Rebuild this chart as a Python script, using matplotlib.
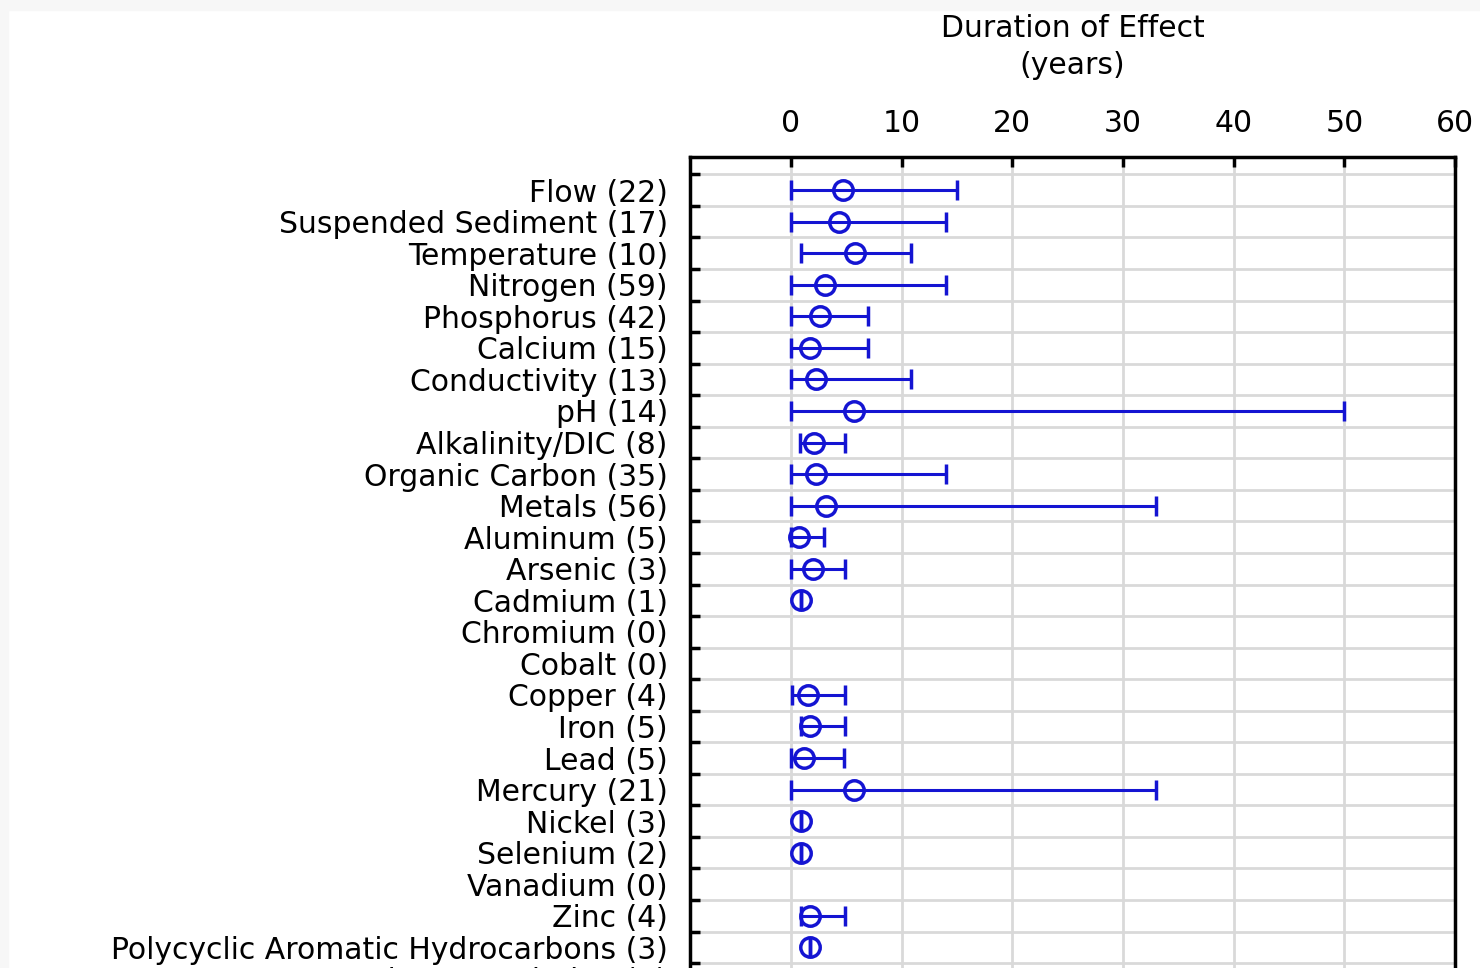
import numpy as np
import matplotlib.pyplot as plt
from matplotlib.patches import Rectangle

# categories (top to bottom) and durations in years
labels = ["Flow (22)", "Suspended Sediment (17)", "Temperature (10)", "Nitrogen (59)",
          "Phosphorus (42)", "Calcium (15)", "Conductivity (13)", "pH (14)",
          "Alkalinity/DIC (8)", "Organic Carbon (35)", "Metals (56)", "Aluminum (5)",
          "Arsenic (3)", "Cadmium (1)", "Chromium (0)", "Cobalt (0)", "Copper (4)",
          "Iron (5)", "Lead (5)", "Mercury (21)", "Nickel (3)", "Selenium (2)",
          "Vanadium (0)", "Zinc (4)", "Polycyclic Aromatic Hydrocarbons (3)",
          "Bioaccumulation (0)"]
center = [4.7, 4.3, 5.8, 3.1, 2.6, 1.7, 2.3, 5.7, 2.1, 2.3, 3.2, 0.7, 2.0, 0.9,
          np.nan, np.nan, 1.5, 1.7, 1.2, 5.7, 0.9, 0.9, np.nan, 1.7, 1.7, np.nan]
low = [0.0, 0.0, 0.9, 0.0, 0.0, 0.0, 0.0, 0.0, 0.8, 0.0, 0.0, 0.0, 0.0, 0.9,
       np.nan, np.nan, 0.1, 0.9, 0.0, 0.0, 0.9, 0.9, np.nan, 0.9, 1.7, np.nan]
high = [15.0, 14.0, 10.8, 14.0, 7.0, 7.0, 10.8, 50.0, 4.9, 14.0, 33.0, 3.0, 4.9, 0.9,
        np.nan, np.nan, 4.9, 4.9, 4.8, 33.0, 0.9, 0.9, np.nan, 4.9, 1.7, np.nan]
xticks = [0, 10, 20, 30, 40, 50, 60]

blue = '#1414d2'
fs = 21.5

fig = plt.figure(figsize=(14.8, 9.68), dpi=100)
# light grey frame at top and left of the screenshot
fig.patches.append(Rectangle((0, 1 - 10 / 968), 1, 10 / 968, transform=fig.transFigure,
                             color='#f7f7f7', zorder=0))
fig.patches.append(Rectangle((0, 0), 8 / 1480, 1, transform=fig.transFigure,
                             color='#f7f7f7', zorder=0))

row_px = 31.55
y_top, y_bot = -1.05, 25.6
top_px = 157
h_px = (y_bot - y_top) * row_px
ax = fig.add_axes([690 / 1480, 1 - (top_px + h_px) / 968, (1455 - 690) / 1480, h_px / 968])

y = np.arange(len(labels))
c = np.array(center)
xerr = [c - np.array(low), np.array(high) - c]
ax.errorbar(c, y, xerr=xerr, fmt='o', color=blue, mfc='none', mec=blue, ms=14, mew=2.5,
            elinewidth=2.2, capsize=7.5, capthick=2.4, zorder=3)

ax.set_xlim(-9.13, 60)
ax.set_ylim(y_bot, y_top)

ax.xaxis.tick_top()
ax.xaxis.set_label_position('top')
ax.set_xticks(xticks)
ax.tick_params(axis='x', which='major', direction='in', length=7, width=2.5,
               labelsize=fs, pad=14)
ax.set_xlabel("Duration of Effect\n(years)", fontsize=fs, labelpad=25, linespacing=1.35)

ax.set_yticks(np.arange(len(labels)) - 0.5)
ax.set_yticklabels([])
ax.set_yticks(y, minor=True)
ax.set_yticklabels(labels, minor=True, fontsize=fs)
ax.tick_params(axis='y', which='major', direction='in', length=7, width=2.5)
ax.tick_params(axis='y', which='minor', length=0, pad=16)

ax.grid(True, which='major', color='#d9d9d9', lw=2)
ax.set_axisbelow(True)
for s in ax.spines.values():
    s.set_linewidth(2.5)

fig.savefig('out.png', dpi=100)
